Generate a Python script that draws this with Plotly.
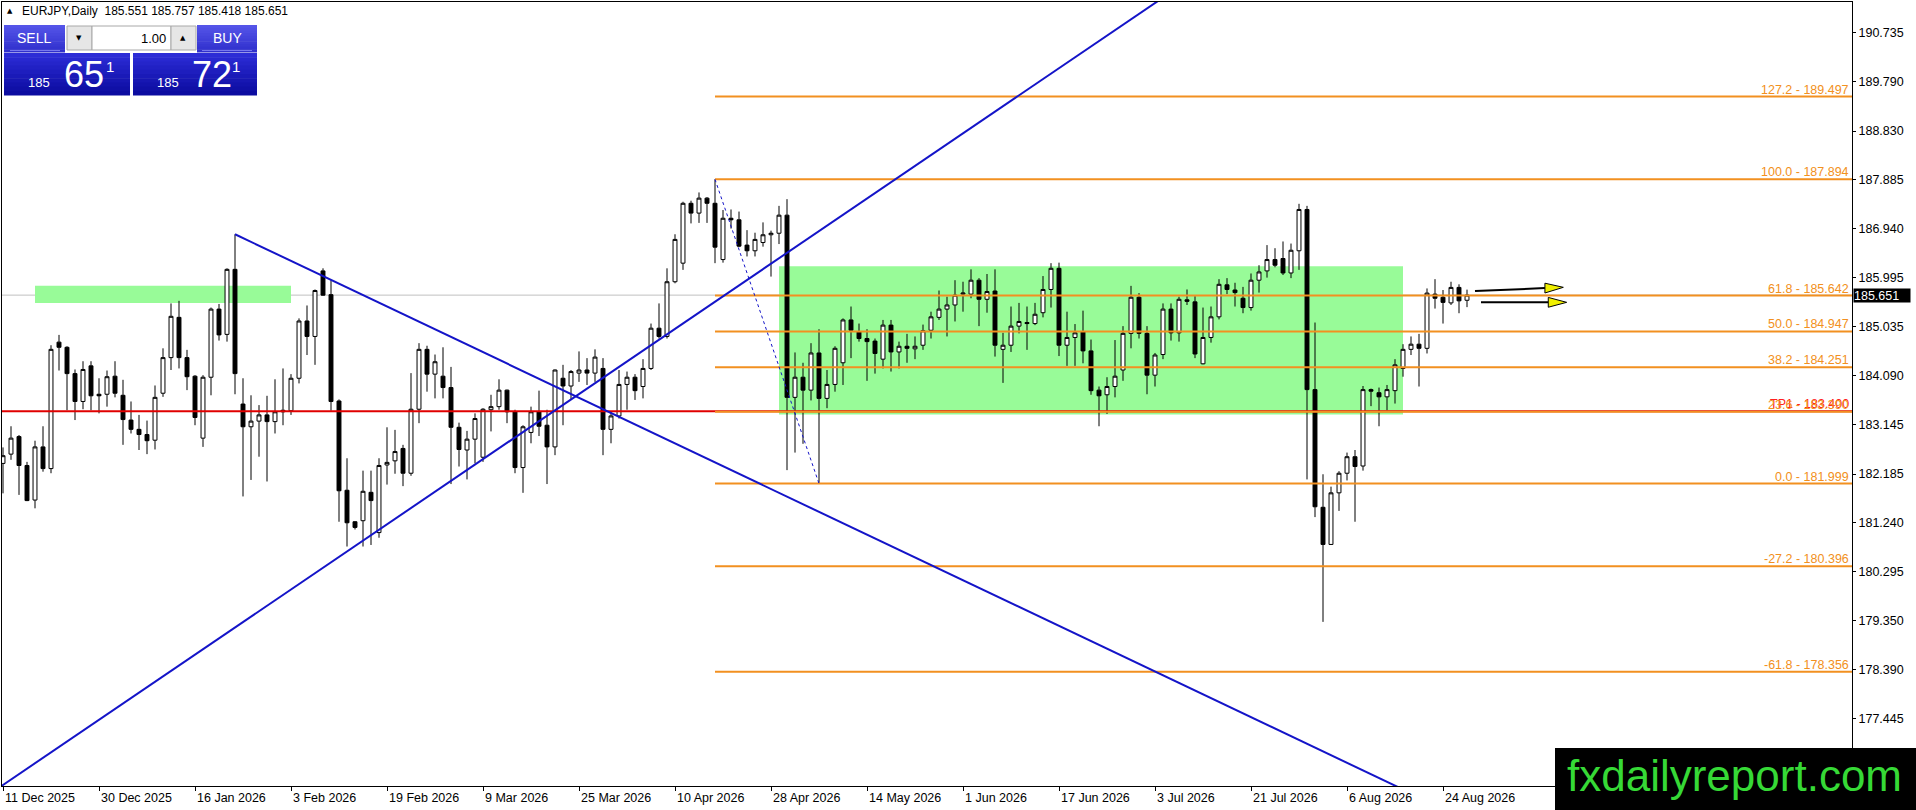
import plotly.graph_objects as go

# ---------------- data ----------------
opens = [182.39, 182.57, 182.91, 182.35, 181.68, 182.71, 182.29, 184.74, 184.64, 184.13,
         183.59, 184.28, 183.73, 183.73, 184.08, 183.71, 183.23, 183.05, 182.95, 182.84,
         183.75, 184.44, 185.22, 184.44, 184.08, 182.88, 184.06, 185.38, 184.89, 186.15,
         183.54, 183.10, 183.21, 183.33, 183.20, 183.39, 183.41, 184.04, 185.15, 184.85,
         186.12, 185.66, 183.60, 181.87, 181.26, 181.28, 181.83, 181.05, 182.36, 182.44,
         182.68, 182.20, 183.44, 184.60, 184.12, 184.08, 183.86, 183.09, 182.65, 182.86,
         182.51, 183.43, 183.49, 183.81, 183.39, 182.31, 182.99, 183.39, 183.13, 182.71,
         184.04, 183.89, 184.14, 184.20, 184.14, 184.23, 183.05, 183.31, 183.92, 184.06,
         183.88, 184.23, 185.01, 184.85, 185.91, 186.27, 187.43, 187.24, 187.53, 187.43,
         186.34, 187.14, 187.11, 186.62, 186.51, 186.67, 186.82, 186.85, 187.20, 183.67,
         184.06, 183.81, 184.53, 183.65, 183.92, 184.34, 185.17, 184.94, 184.81, 184.76,
         184.41, 185.07, 184.55, 184.66, 184.61, 184.68, 184.97, 185.22, 185.38, 185.46,
         185.67, 185.67, 185.94, 185.57, 185.73, 184.60, 184.68, 185.05, 185.12, 185.10,
         185.31, 185.76, 186.17, 184.68, 184.83, 184.94, 184.57, 183.81, 183.72, 183.88,
         184.20, 184.91, 185.61, 184.91, 184.10, 184.50, 185.38, 184.92, 185.56, 185.52,
         184.32, 184.83, 185.23, 185.85, 185.75, 185.59, 185.41, 185.94, 186.12, 186.34,
         186.36, 186.08, 186.51, 187.31, 183.82, 181.54, 180.82, 181.82, 182.20, 182.52,
         182.34, 183.82, 183.76, 183.68, 183.80, 184.23, 184.60, 184.70, 184.62, 185.67,
         185.61, 185.50, 185.80, 185.551]
highs = [182.70, 183.11, 182.94, 182.42, 182.83, 183.11, 184.68, 184.88, 184.66, 184.21,
         184.37, 184.37, 184.04, 184.19, 184.37, 184.01, 183.59, 183.33, 183.22, 183.90,
         184.62, 185.49, 185.54, 184.59, 184.10, 184.10, 185.41, 185.48, 186.17, 186.83,
         184.04, 183.71, 183.52, 183.70, 184.02, 184.23, 184.12, 185.20, 185.45, 185.76,
         186.17, 185.94, 183.63, 182.49, 181.27, 182.25, 182.25, 182.49, 183.09, 183.04,
         182.75, 184.14, 184.72, 184.67, 184.50, 184.64, 184.26, 183.18, 183.02, 183.36,
         183.46, 183.72, 184.02, 183.82, 183.43, 183.13, 183.49, 183.80, 183.43, 184.21,
         184.30, 184.20, 184.56, 184.43, 184.60, 184.43, 183.39, 184.20, 184.17, 184.12,
         184.41, 185.10, 185.49, 186.17, 186.83, 187.46, 187.48, 187.64, 187.55, 187.894,
         187.30, 187.31, 187.27, 186.91, 186.86, 187.06, 186.90, 187.38, 187.51, 184.54,
         184.34, 184.72, 184.99, 184.20, 184.66, 185.20, 185.43, 185.10, 184.99, 184.81,
         185.17, 185.17, 184.75, 184.90, 184.85, 185.08, 185.33, 185.74, 185.62, 185.94,
         185.91, 186.15, 185.98, 186.06, 186.15, 184.92, 185.43, 185.50, 185.43, 185.50,
         186.02, 186.27, 186.28, 185.33, 185.09, 185.35, 184.79, 183.88, 184.06, 184.78,
         185.05, 185.83, 185.69, 185.05, 184.53, 185.49, 185.49, 185.62, 185.76, 185.63,
         185.41, 185.43, 185.96, 185.98, 185.89, 185.81, 186.07, 186.23, 186.62, 186.56,
         186.69, 186.65, 187.42, 187.38, 185.12, 182.18, 181.94, 182.24, 182.60, 182.65,
         183.89, 183.84, 183.86, 183.91, 184.41, 184.70, 184.85, 184.90, 185.78, 185.96,
         185.75, 185.91, 185.86, 185.757]
lows = [181.81, 182.46, 181.78, 181.66, 181.52, 182.23, 182.20, 184.19, 183.42, 183.23,
        183.44, 183.42, 183.36, 183.49, 183.67, 182.75, 182.97, 182.65, 182.57, 182.66,
        183.68, 184.20, 184.23, 183.81, 183.13, 182.71, 183.71, 184.77, 184.75, 183.73,
        181.75, 182.07, 182.52, 182.04, 182.97, 183.13, 183.33, 183.94, 184.49, 184.30,
        185.64, 183.41, 181.26, 180.78, 181.11, 180.78, 180.81, 180.95, 181.98, 182.19,
        181.95, 182.15, 183.17, 183.78, 183.65, 183.65, 181.99, 182.33, 182.08, 182.39,
        182.42, 183.01, 183.43, 183.17, 182.20, 181.82, 182.78, 182.92, 181.99, 182.55,
        183.13, 183.62, 183.97, 183.91, 183.97, 182.55, 182.78, 183.26, 183.43, 183.62,
        183.65, 184.20, 184.81, 184.81, 185.88, 186.14, 187.04, 187.05, 187.05, 186.27,
        186.28, 186.94, 186.58, 186.40, 186.40, 186.59, 186.01, 186.64, 182.26, 182.60,
        182.77, 183.61, 181.999, 183.46, 183.78, 183.91, 184.43, 184.75, 183.99, 184.13,
        184.23, 184.17, 184.23, 184.34, 184.41, 184.59, 184.81, 185.17, 184.85, 185.14,
        185.33, 185.59, 185.05, 185.31, 184.46, 183.95, 184.55, 184.91, 184.59, 185.07,
        185.22, 185.41, 184.47, 184.28, 184.28, 184.33, 183.72, 183.11, 183.35, 183.67,
        183.99, 184.62, 184.81, 183.73, 183.88, 184.41, 184.77, 184.75, 185.46, 184.43,
        184.31, 184.73, 185.18, 185.67, 185.43, 185.30, 185.35, 185.70, 185.99, 186.19,
        186.04, 185.98, 186.14, 182.08, 181.35, 179.32, 180.81, 181.47, 182.06, 181.26,
        182.25, 183.50, 183.11, 183.42, 183.55, 184.07, 184.49, 183.88, 184.52, 185.39,
        185.10, 185.46, 185.30, 185.418]
closes = [182.54, 182.88, 182.35, 181.67, 182.71, 182.29, 184.60, 184.64, 184.13, 183.59,
          184.21, 183.70, 183.70, 184.07, 183.75, 183.24, 183.05, 182.95, 182.83, 183.67,
          184.44, 185.24, 184.44, 184.07, 183.28, 184.06, 185.38, 184.88, 186.15, 184.13,
          183.10, 183.21, 183.33, 183.20, 183.39, 183.42, 184.04, 185.15, 184.85, 185.74,
          185.65, 183.59, 181.86, 181.24, 181.15, 181.85, 181.67, 182.35, 182.41, 182.62,
          182.20, 183.44, 184.60, 184.12, 184.36, 183.86, 183.09, 182.66, 182.86, 183.26,
          183.44, 183.49, 183.81, 183.39, 182.31, 183.10, 183.39, 183.11, 182.71, 184.20,
          183.89, 184.17, 184.20, 184.14, 184.45, 183.05, 183.31, 183.92, 184.06, 183.80,
          184.23, 185.01, 184.85, 185.91, 186.73, 187.43, 187.24, 187.53, 187.43, 186.58,
          187.14, 187.11, 186.60, 186.51, 186.73, 186.82, 186.85, 187.20, 183.67, 184.06,
          183.81, 184.53, 183.65, 183.92, 184.62, 185.17, 184.97, 184.81, 184.75, 184.52,
          185.07, 184.55, 184.66, 184.62, 184.66, 184.96, 185.23, 185.38, 185.46, 185.65,
          185.69, 185.94, 185.57, 185.72, 184.68, 184.68, 185.05, 185.14, 185.10, 185.28,
          185.76, 186.17, 184.68, 184.83, 184.92, 184.57, 183.80, 183.70, 183.88, 184.08,
          184.91, 185.61, 184.91, 184.10, 184.49, 185.38, 184.92, 185.57, 185.53, 184.51,
          184.83, 185.23, 185.86, 185.76, 185.70, 185.41, 185.94, 186.10, 186.34, 186.23,
          186.08, 186.52, 187.31, 183.82, 181.55, 180.82, 181.82, 182.20, 182.52, 182.33,
          183.82, 183.79, 183.68, 183.82, 184.30, 184.60, 184.70, 184.62, 185.69, 185.59,
          185.51, 185.80, 185.54, 185.651]

date_labels = ["11 Dec 2025", "30 Dec 2025", "16 Jan 2026", "3 Feb 2026", "19 Feb 2026",
               "9 Mar 2026", "25 Mar 2026", "10 Apr 2026", "28 Apr 2026", "14 May 2026",
               "1 Jun 2026", "17 Jun 2026", "3 Jul 2026", "21 Jul 2026", "6 Aug 2026",
               "24 Aug 2026"]
bars_per_label = 12
price_ticks = [190.735, 189.790, 188.830, 187.885, 186.940, 185.995, 185.035, 184.090,
               183.145, 182.185, 181.240, 180.295, 179.350, 178.390, 177.445]

fib_ratios = ["127.2", "100.0", "61.8", "50.0", "38.2", "23.6", "0.0", "-27.2", "-61.8"]
fib_prices = [189.497, 187.894, 185.642, 184.947, 184.251, 183.390, 181.999, 180.396, 178.356]
fib_anchor_bars = [89, 102]
fib_anchor_prices = [187.894, 181.999]

tp1_label = "TP1"
tp1_price = 183.400
last_price = 185.651
header_symbol = "EURJPY,Daily"
header_ohlc = [185.551, 185.757, 185.418, 185.651]

zone_x0 = [4, 97]
zone_x1 = [36, 175]
zone_low = [185.50, 183.34]
zone_high = [185.83, 186.21]

trend_x0 = [-2, 29]
trend_y0 = [175.95, 186.83]
trend_x1 = [146, 176]
trend_y1 = [191.52, 176.00]

arrow_x0 = [184.0, 184.75]
arrow_y0 = [185.730, 185.511]
arrow_x1 = [195.04, 195.46]
arrow_y1 = [185.802, 185.511]

sell_price = ["185", "65", "1"]
buy_price = ["185", "72", "1"]
lot_size = "1.00"
watermark = "fxdailyreport.com"

# ---------------- styling ----------------
FONT = "Liberation Sans"
ORANGE = "#F29020"
BLUE = "#1414C8"
X_RANGE = [-0.125, 231.125]
Y_RANGE = [176.14, 191.33]
HEAD_LEN = 2.3      # arrow head length (bars)
HEAD_HALF = 0.095   # arrow head half height (price)

bars = list(range(len(opens)))
tick_bars = [i * bars_per_label for i in range(len(date_labels))]

fig = go.Figure()
fig.add_trace(go.Candlestick(
    x=bars, open=opens, high=highs, low=lows, close=closes,
    increasing=dict(line=dict(color="black", width=1), fillcolor="white"),
    decreasing=dict(line=dict(color="black", width=1), fillcolor="black"),
    whiskerwidth=0, showlegend=False, hoverinfo="skip"))

shapes = []
annotations = []

# zones (below candles)
for x0, x1, lo, hi in zip(zone_x0, zone_x1, zone_low, zone_high):
    shapes.append(dict(type="rect", xref="x", yref="y", x0=x0, x1=x1, y0=lo, y1=hi,
                       fillcolor="#98FB98", line=dict(width=0), layer="below"))
# current price line
shapes.append(dict(type="line", xref="paper", yref="y", x0=0, x1=1, y0=last_price, y1=last_price,
                   line=dict(color="#C0C0C0", width=1), layer="below"))
# TP1 line
shapes.append(dict(type="line", xref="paper", yref="y", x0=0, x1=1, y0=tp1_price, y1=tp1_price,
                   line=dict(color="#E00000", width=2), layer="above"))
# fibonacci levels
for p in fib_prices:
    shapes.append(dict(type="line", xref="x", yref="y", x0=fib_anchor_bars[0], x1=X_RANGE[1] + 2,
                       y0=p, y1=p, line=dict(color=ORANGE, width=2), layer="above"))
shapes.append(dict(type="line", xref="x", yref="y", x0=fib_anchor_bars[0], x1=fib_anchor_bars[1],
                   y0=fib_anchor_prices[0], y1=fib_anchor_prices[1],
                   line=dict(color=BLUE, width=1, dash="dot"), layer="above"))
# trend lines
for x0, y0, x1, y1 in zip(trend_x0, trend_y0, trend_x1, trend_y1):
    shapes.append(dict(type="line", xref="x", yref="y", x0=x0, y0=y0, x1=x1, y1=y1,
                       line=dict(color=BLUE, width=2), layer="above"))

# arrows
for x0, y0, x1, y1 in zip(arrow_x0, arrow_y0, arrow_x1, arrow_y1):
    slope = (y1 - y0) / (x1 - x0)
    bx = x1 - HEAD_LEN
    by = y1 - slope * HEAD_LEN
    fig.add_trace(go.Scatter(x=[x0, bx], y=[y0, by], mode="lines",
                             line=dict(color="black", width=2), showlegend=False, hoverinfo="skip"))
    fig.add_trace(go.Scatter(x=[x1, bx, bx, x1], y=[y1, by + HEAD_HALF, by - HEAD_HALF, y1],
                             mode="lines", fill="toself", fillcolor="#F0F000",
                             line=dict(color="black", width=1), showlegend=False, hoverinfo="skip"))

# TP1 label (drawn first, fib labels overlay it)
annotations.append(dict(xref="paper", yref="y", x=1, y=tp1_price, xanchor="right", yanchor="bottom",
                        xshift=-1, yshift=-2, showarrow=False, text=f"{tp1_label} - {tp1_price:.3f}",
                        font=dict(family=FONT, size=12.5, color="#FF2020")))
# fib labels
for r, p in zip(fib_ratios, fib_prices):
    annotations.append(dict(xref="paper", yref="y", x=1, y=p, xanchor="right", yanchor="bottom",
                            xshift=-1, yshift=-2, showarrow=False, text=f"{r} - {p:.3f}",
                            font=dict(family=FONT, size=12.5, color=ORANGE)))

# x labels
for b, lab in zip(tick_bars, date_labels):
    annotations.append(dict(xref="x", yref="paper", x=b, y=0, xanchor="left", yanchor="top",
                            yshift=-3, showarrow=False, text=lab,
                            font=dict(family=FONT, size=12.5, color="black")))

# current price tag
annotations.append(dict(xref="paper", yref="y", x=1, y=last_price, xanchor="left", yanchor="middle",
                        xshift=1, showarrow=False, text=f"{last_price:.3f}", bgcolor="black",
                        width=56, height=13, align="left", borderpad=0,
                        font=dict(family=FONT, size=12.5, color="white")))

# header
annotations.append(dict(xref="paper", yref="paper", x=0, y=1, xanchor="left", yanchor="middle",
                        xshift=3, yshift=-9, showarrow=False, text="▲",
                        font=dict(family="DejaVu Sans", size=7, color="black")))
annotations.append(dict(xref="paper", yref="paper", x=0, y=1, xanchor="left", yanchor="middle",
                        xshift=18, yshift=-9, showarrow=False,
                        text=header_symbol + "  " + " ".join(f"{v:.3f}" for v in header_ohlc),
                        font=dict(family=FONT, size=12, color="black")))


# ---------- one-click trading panel (pixel positions relative to plot top-left) ----------
def px_rect(x0, y0, x1, y1, fill, border=None, width=0, anchor=(0, 1)):
    return dict(type="rect", xref="paper", yref="paper", xsizemode="pixel", ysizemode="pixel",
                xanchor=anchor[0], yanchor=anchor[1], x0=x0, x1=x1, y0=-y0, y1=-y1,
                fillcolor=fill, line=dict(color=border or fill, width=width), layer="above")


def px_text(x, y, text, size, color, xanchor="center", family=FONT, anchor=(0, 1)):
    return dict(xref="paper", yref="paper", x=anchor[0], y=anchor[1], xshift=x, yshift=-y,
                xanchor=xanchor, yanchor="middle", showarrow=False, text=text,
                font=dict(family=family, size=size, color=color))


def gradient(x0, y0, x1, y1, top, bottom, n=10):
    out = []
    h = (y1 - y0) / n
    for k in range(n):
        t = k / (n - 1)
        c = tuple(round(top[j] + (bottom[j] - top[j]) * t) for j in range(3))
        out.append(px_rect(x0, y0 + k * h, x1, y0 + (k + 1) * h + 0.5, "rgb(%d,%d,%d)" % c))
    return out


shapes += gradient(2, 23, 63, 50, (84, 84, 232), (48, 48, 205))
shapes += gradient(195, 23, 255, 50, (84, 84, 232), (48, 48, 205))
shapes.append(px_rect(8, 48, 58, 49, "rgb(120,120,240)"))
shapes.append(px_rect(200, 48, 250, 49, "rgb(120,120,240)"))
shapes += gradient(2, 51, 128, 93, (44, 44, 214), (12, 12, 160))
shapes += gradient(131, 51, 255, 93, (44, 44, 214), (12, 12, 160))
shapes.append(px_rect(65, 24, 90, 48, "#E6E6E6", "#A8A8A8", 1))
shapes.append(px_rect(90, 24, 169, 48, "white", "#A8A8A8", 1))
shapes.append(px_rect(169, 24, 194, 48, "#E6E6E6", "#A8A8A8", 1))

annotations.append(px_text(32, 36, "SELL", 14, "white"))
annotations.append(px_text(225, 36, "BUY", 14, "white"))
annotations.append(px_text(77, 36, "▼", 7, "black", family="DejaVu Sans"))
annotations.append(px_text(181, 36, "▲", 7, "black", family="DejaVu Sans"))
annotations.append(px_text(166, 36, lot_size, 13, "black", xanchor="right"))
annotations.append(px_text(37, 80, sell_price[0], 13, "white"))
annotations.append(px_text(82, 72, sell_price[1], 36, "white"))
annotations.append(px_text(108, 64, sell_price[2], 15, "white"))
annotations.append(px_text(166, 80, buy_price[0], 13, "white"))
annotations.append(px_text(210, 72, buy_price[1], 36, "white"))
annotations.append(px_text(234, 64, buy_price[2], 15, "white"))

# watermark (relative to plot bottom-right corner)
shapes.append(dict(type="rect", xref="paper", yref="paper", xsizemode="pixel", ysizemode="pixel",
                   xanchor=1, yanchor=0, x0=-297, x1=70, y0=-30, y1=38,
                   fillcolor="black", line=dict(width=0), layer="above"))
annotations.append(dict(xref="paper", yref="paper", x=1, y=0, xshift=-118, yshift=11,
                        xanchor="center", yanchor="middle", showarrow=False, text=watermark,
                        font=dict(family=FONT, size=44, color="#36D936")))

fig.update_layout(
    width=1916, height=810,
    margin=dict(l=2, r=64, t=2, b=24, autoexpand=False),
    paper_bgcolor="white", plot_bgcolor="white",
    showlegend=False, shapes=shapes, annotations=annotations,
    xaxis=dict(range=X_RANGE, showgrid=False, zeroline=False, showline=True, linecolor="black",
               linewidth=1, mirror=True, ticks="outside", tickvals=tick_bars, ticklen=4,
               tickcolor="black", showticklabels=False, rangeslider=dict(visible=False),
               fixedrange=True),
    yaxis=dict(range=Y_RANGE, side="right", showgrid=False, zeroline=False, showline=True,
               linecolor="black", linewidth=1, mirror=True, ticks="outside", ticklen=3,
               tickcolor="black", tickvals=price_ticks, ticktext=[f"{v:.3f}" for v in price_ticks],
               tickfont=dict(family=FONT, size=12.5, color="black"), fixedrange=True),
)

fig.write_html("out.html", config=dict(displayModeBar=False),
               post_script="document.body.style.margin='0px';document.body.style.overflow='hidden';")
